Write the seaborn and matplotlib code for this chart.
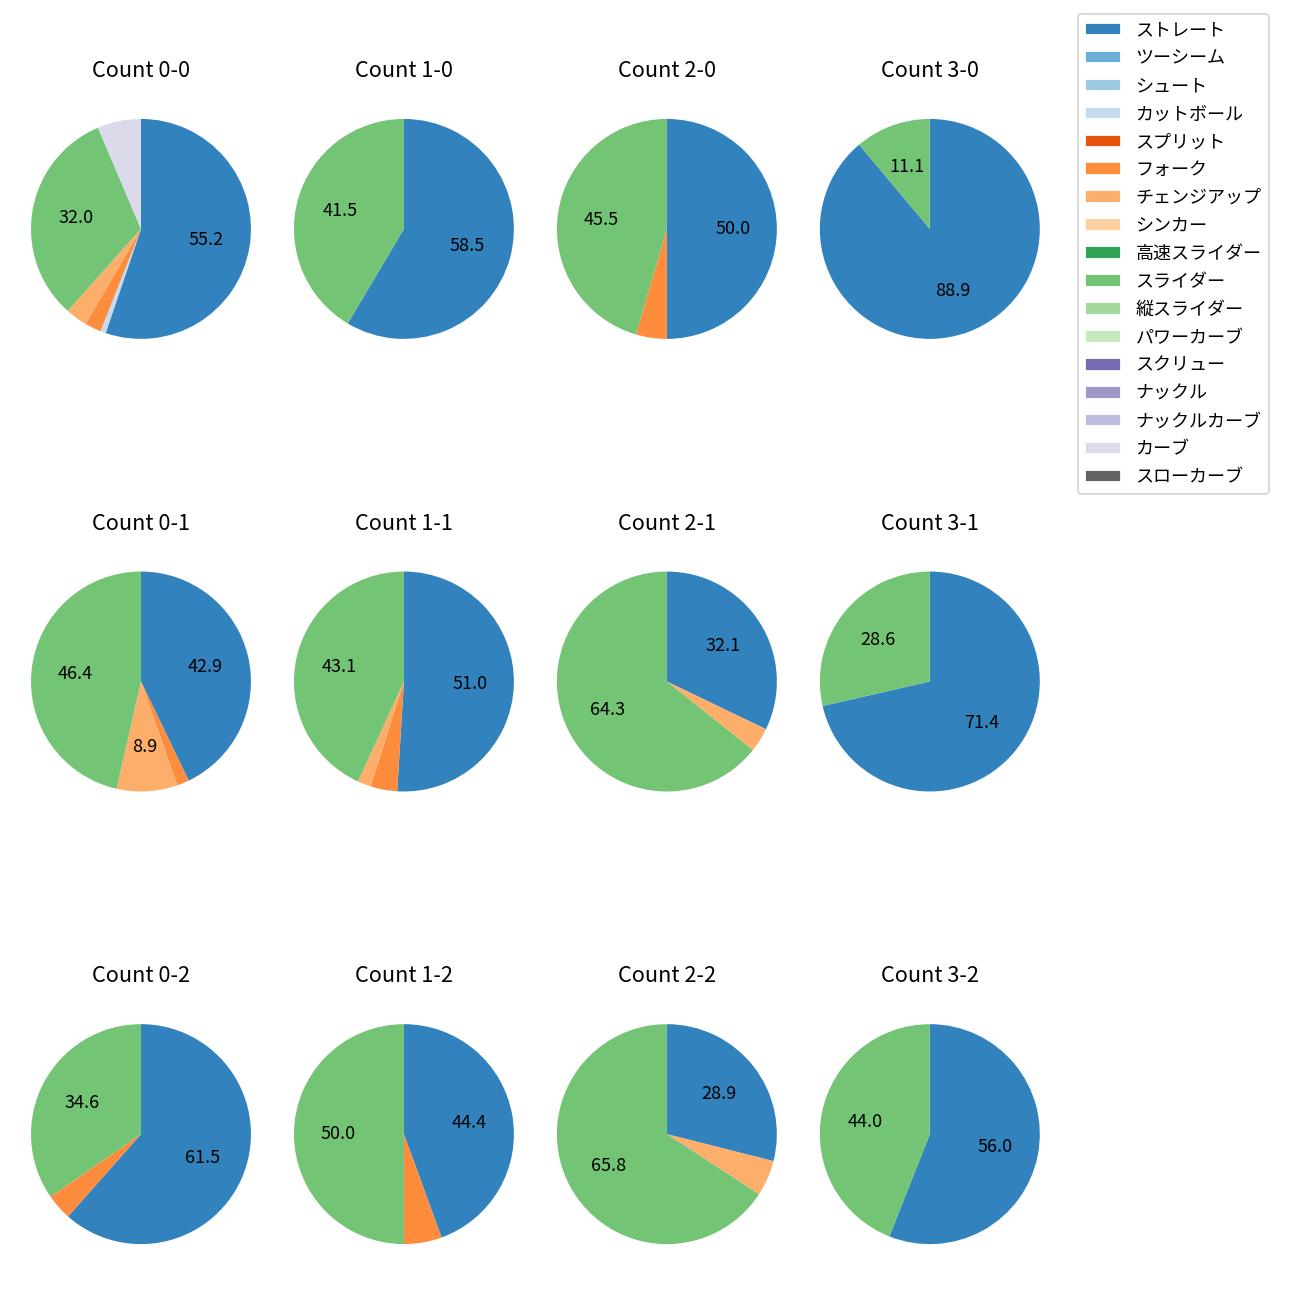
"""Pitch mix by ball-strike count, drawn as a grid of pies."""

import matplotlib.pyplot as plt
import seaborn as sns
from matplotlib.patches import Patch

PITCH_TYPES = [
    "ストレート", "ツーシーム", "シュート", "カットボール", "スプリット",
    "フォーク", "チェンジアップ", "シンカー", "高速スライダー", "スライダー",
    "縦スライダー", "パワーカーブ", "スクリュー", "ナックル", "ナックルカーブ",
    "カーブ", "スローカーブ",
]

COUNTS = [
    "0-0", "1-0", "2-0", "3-0",
    "0-1", "1-1", "2-1", "3-1",
    "0-2", "1-2", "2-2", "3-2",
]

# pitches thrown per count (only non-zero types listed)
PITCHES = {
    "0-0": {"ストレート": 69, "カットボール": 1, "フォーク": 3, "チェンジアップ": 4, "スライダー": 40, "カーブ": 8},
    "1-0": {"ストレート": 24, "スライダー": 17},
    "2-0": {"ストレート": 11, "フォーク": 1, "スライダー": 10},
    "3-0": {"ストレート": 8, "スライダー": 1},
    "0-1": {"ストレート": 24, "フォーク": 1, "チェンジアップ": 5, "スライダー": 26},
    "1-1": {"ストレート": 26, "フォーク": 2, "チェンジアップ": 1, "スライダー": 22},
    "2-1": {"ストレート": 9, "チェンジアップ": 1, "スライダー": 18},
    "3-1": {"ストレート": 5, "スライダー": 2},
    "0-2": {"ストレート": 16, "フォーク": 1, "スライダー": 9},
    "1-2": {"ストレート": 8, "フォーク": 1, "スライダー": 9},
    "2-2": {"ストレート": 11, "チェンジアップ": 2, "スライダー": 25},
    "3-2": {"ストレート": 14, "スライダー": 11},
}


def main():
    sns.set_style("white")
    plt.rcParams["font.family"] = ["Noto Sans CJK JP", "DejaVu Sans"]
    plt.rcParams["text.color"] = "black"

    palette = sns.color_palette("tab20c", 20)
    colors = {name: palette[i] for i, name in enumerate(PITCH_TYPES)}

    fig, axes = plt.subplots(3, 4, figsize=(10, 10), dpi=130)
    fig.subplots_adjust(left=0.0027, right=0.821, top=0.9392, bottom=0.0123,
                        wspace=-0.0436, hspace=0.51)

    for ax, count in zip(axes.flat, COUNTS):
        data = PITCHES[count]
        names = [n for n in PITCH_TYPES if data.get(n, 0) > 0]
        values = [data[n] for n in names]
        ax.pie(
            values,
            colors=[colors[n] for n in names],
            startangle=90,
            counterclock=False,
            autopct=lambda p: f"{p:.1f}" if p >= 8 else "",
            wedgeprops={"linewidth": 0},
            textprops={"fontsize": 10, "color": "black"},
        )
        ax.set_title(f"Count {count}", fontsize=12, color="black", pad=8)
        ax.set_aspect("equal")

    handles = [Patch(facecolor=colors[n], label=n) for n in PITCH_TYPES]
    fig.legend(handles=handles, loc="upper left", bbox_to_anchor=(0.822, 0.996),
               fontsize=10, labelspacing=0.55)

    fig.savefig("out.png", dpi=130)
    plt.close(fig)


if __name__ == "__main__":
    main()
